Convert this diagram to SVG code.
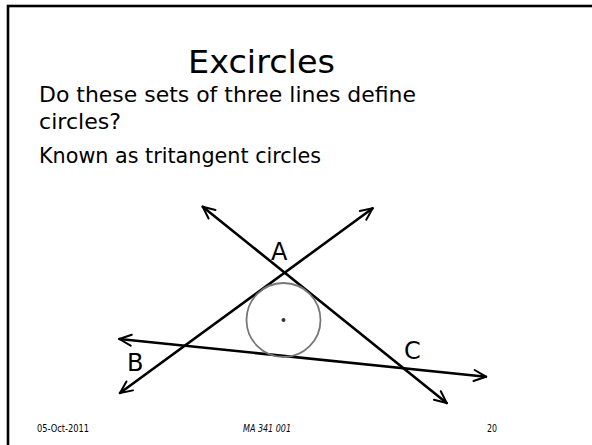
<svg xmlns="http://www.w3.org/2000/svg" width="592" height="445" viewBox="0 0 592 445">
<style>
text{font-family:"DejaVu Sans","Noto Sans",sans-serif;fill:#000}
.title{font-size:32px}
.body{font-size:21px}
.lbl{font-size:24px}
.foot{font-size:10px}
.ln{stroke:#000;stroke-width:2.6;fill:none;stroke-linecap:round;marker-start:url(#arr);marker-end:url(#arr)}
</style>
<defs>
<marker id="arr" markerUnits="userSpaceOnUse" markerWidth="24" markerHeight="24" viewBox="-16 -12 24 24" refX="0" refY="0" orient="auto-start-reverse">
<path d="M-12,-5.5 L0,0 L-12,5.5" fill="none" stroke="#000" stroke-width="2" stroke-linecap="round" stroke-linejoin="round"/>
</marker>
</defs>
<rect x="0" y="0" width="592" height="445" fill="#fff"/>
<rect x="8" y="6" width="620" height="480" fill="none" stroke="#000" stroke-width="2.6"/>
<g id="title"><text class="title" x="188" y="73" textLength="147" lengthAdjust="spacingAndGlyphs">Excircles</text></g>
<g id="body">
<text class="body" x="39" y="102" textLength="377" lengthAdjust="spacingAndGlyphs">Do these sets of three lines define</text>
<text class="body" x="39" y="129" textLength="82" lengthAdjust="spacingAndGlyphs">circles?</text>
<text class="body" x="39" y="163" textLength="282" lengthAdjust="spacingAndGlyphs">Known as tritangent circles</text>
</g>
<g id="connectors">
<line class="ln" x1="202.7" y1="206.7" x2="446.7" y2="403"/>
<line class="ln" x1="372.7" y1="208.3" x2="120" y2="393"/>
<line class="ln" x1="119.3" y1="339" x2="486" y2="376.7"/>
</g>
<g id="incircle">
<circle cx="283.5" cy="320" r="37" fill="none" stroke="#777" stroke-width="1.8"/>
<circle cx="283.5" cy="320" r="2" fill="#333"/>
</g>
<g id="A"><text class="lbl" x="271" y="260">A</text></g>
<g id="B"><text class="lbl" x="127" y="371">B</text></g>
<g id="C"><text class="lbl" x="404" y="359">C</text></g>
<g id="footer">
<text class="foot" x="37" y="432" textLength="52" lengthAdjust="spacingAndGlyphs">05-Oct-2011</text>
<text class="foot" x="243" y="432" font-style="italic" textLength="48" lengthAdjust="spacingAndGlyphs">MA 341 001</text>
<text class="foot" x="487" y="432" textLength="10" lengthAdjust="spacingAndGlyphs">20</text>
</g>
</svg>
